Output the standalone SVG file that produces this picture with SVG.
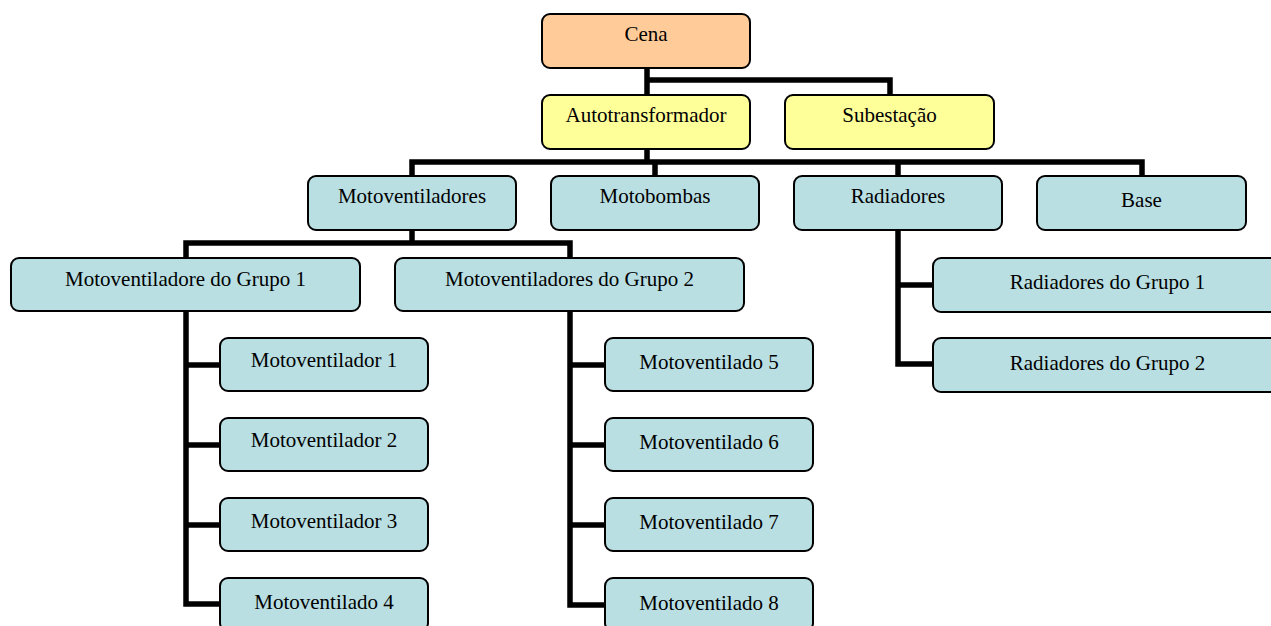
<svg xmlns="http://www.w3.org/2000/svg" width="1271" height="626" viewBox="0 0 1271 626">
<style>
.box{stroke:#000;stroke-width:2;}
.root{fill:#FFCC99;}
.yel{fill:#FFFF99;}
.blu{fill:#B9DFE3;}
.lbl{font-family:"Liberation Serif","Times New Roman",serif;font-size:21px;fill:#000;text-anchor:middle;}
.con{fill:none;stroke:#000;stroke-width:5.5;stroke-linejoin:miter;}
</style>
<rect width="1271" height="626" fill="#fff"/>
<g id="connectors">
<path class="con" d="M647 68 V95 M647 80 H890 V95"/>
<path class="con" d="M647 149 V162 M412 176 V162 H1142 V176 M655 162 V176 M898 162 V176"/>
<path class="con" d="M412 230 V243 M186 258 V243 H570 V258"/>
<path class="con" d="M186 311 V604 H220 M186 365 H220 M186 445 H220 M186 525 H220"/>
<path class="con" d="M570 311 V605 H605 M570 365 H605 M570 445 H605 M570 525 H605"/>
<path class="con" d="M898 230 V364 H933 M898 285 H933"/>
</g>
<g id="cena"><rect class="box root" x="542" y="14" width="208" height="54" rx="8"/><text class="lbl" x="646" y="41">Cena</text></g>
<g id="autotransformador"><rect class="box yel" x="542" y="95" width="208" height="54" rx="8"/><text class="lbl" x="646" y="122">Autotransformador</text></g>
<g id="subestacao"><rect class="box yel" x="785" y="95" width="209" height="54" rx="8"/><text class="lbl" x="889.5" y="122">Subestação</text></g>
<g id="motoventiladores"><rect class="box blu" x="308" y="176" width="208" height="54" rx="8"/><text class="lbl" x="412" y="203">Motoventiladores</text></g>
<g id="motobombas"><rect class="box blu" x="551" y="176" width="208" height="54" rx="8"/><text class="lbl" x="655" y="203">Motobombas</text></g>
<g id="radiadores"><rect class="box blu" x="794" y="176" width="208" height="54" rx="8"/><text class="lbl" x="898" y="203">Radiadores</text></g>
<g id="base"><rect class="box blu" x="1037" y="176" width="209" height="54" rx="8"/><text class="lbl" x="1141.5" y="207">Base</text></g>
<g id="mv-grupo1"><rect class="box blu" x="11" y="258" width="349" height="53" rx="8"/><text class="lbl" x="185.5" y="286">Motoventiladore do Grupo 1</text></g>
<g id="mv-grupo2"><rect class="box blu" x="395" y="258" width="349" height="53" rx="8"/><text class="lbl" x="569.5" y="286">Motoventiladores do Grupo 2</text></g>
<g id="rad-grupo1"><rect class="box blu" x="933" y="258" width="349" height="54" rx="8"/><text class="lbl" x="1107.5" y="289">Radiadores do Grupo 1</text></g>
<g id="rad-grupo2"><rect class="box blu" x="933" y="338" width="349" height="54" rx="8"/><text class="lbl" x="1107.5" y="370">Radiadores do Grupo 2</text></g>
<g id="mv1"><rect class="box blu" x="220" y="338" width="208" height="53" rx="8"/><text class="lbl" x="324" y="367">Motoventilador 1</text></g>
<g id="mv2"><rect class="box blu" x="220" y="418" width="208" height="53" rx="8"/><text class="lbl" x="324" y="447">Motoventilador 2</text></g>
<g id="mv3"><rect class="box blu" x="220" y="498" width="208" height="53" rx="8"/><text class="lbl" x="324" y="528">Motoventilador 3</text></g>
<g id="mv4"><rect class="box blu" x="220" y="578" width="208" height="53" rx="8"/><text class="lbl" x="324" y="609">Motoventilado 4</text></g>
<g id="mv5"><rect class="box blu" x="605" y="338" width="208" height="53" rx="8"/><text class="lbl" x="709" y="369">Motoventilado 5</text></g>
<g id="mv6"><rect class="box blu" x="605" y="418" width="208" height="53" rx="8"/><text class="lbl" x="709" y="449">Motoventilado 6</text></g>
<g id="mv7"><rect class="box blu" x="605" y="498" width="208" height="53" rx="8"/><text class="lbl" x="709" y="529">Motoventilado 7</text></g>
<g id="mv8"><rect class="box blu" x="605" y="578" width="208" height="53" rx="8"/><text class="lbl" x="709" y="610">Motoventilado 8</text></g>
</svg>
